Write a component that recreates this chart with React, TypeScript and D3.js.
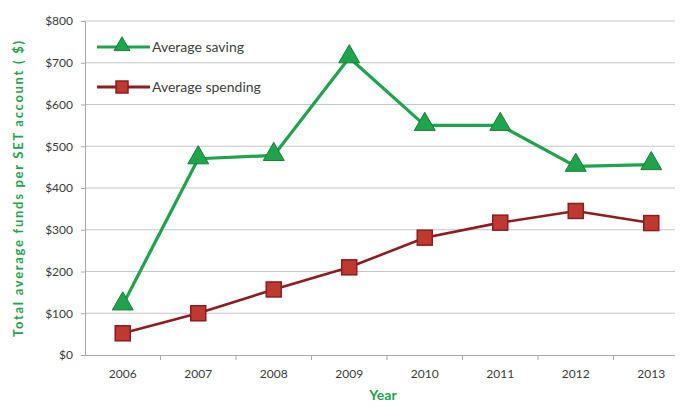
import React, { useEffect, useRef } from 'react';
import * as d3 from 'd3';

const years = ['2006', '2007', '2008', '2009', '2010', '2011', '2012', '2013'];
const saving = [120, 470, 478, 712, 550, 550, 452, 456];
const spending = [52, 100, 157, 210, 281, 317, 345, 316];
const yTicks = [0, 100, 200, 300, 400, 500, 600, 700, 800];

const GREEN = '#1ea44b';
const GREEN_DARK = '#14803a';
const RED = '#8e1d1f';
const RED_FILL = '#c0392f';
const FONT = 'Lato, "Open Sans", sans-serif';

export default function App() {
  const svgRef = useRef<SVGSVGElement | null>(null);

  useEffect(() => {
    const width = 683;
    const height = 410;
    const margin = { top: 21, right: -6, bottom: 55, left: 85 };

    const svg = d3.select(svgRef.current)
      .attr('width', width)
      .attr('height', height)
      .style('background', '#fff');

    svg.selectAll('*').remove();

    const x = d3.scaleBand()
      .domain(years)
      .range([margin.left, width - margin.right]);

    const y = d3.scaleLinear()
      .domain([0, 800])
      .range([height - margin.bottom, margin.top]);

    const cx = (i: number) => x(years[i])! + x.bandwidth() / 2;

    // gridlines
    svg.append('g')
      .selectAll('line')
      .data(yTicks.filter(t => t > 0))
      .join('line')
      .attr('x1', margin.left)
      .attr('x2', width)
      .attr('y1', d => y(d))
      .attr('y2', d => y(d))
      .attr('stroke', '#c6c6c6')
      .attr('stroke-width', 1.2);

    // y axis
    const yAxis = d3.axisLeft(y)
      .tickValues(yTicks)
      .tickSize(4)
      .tickPadding(8)
      .tickFormat(d => `$${d}`);

    const gy = svg.append('g')
      .attr('transform', `translate(${margin.left},0)`)
      .call(yAxis);
    gy.select('.domain').attr('stroke', '#a8a8a8');
    gy.selectAll('.tick line').attr('stroke', '#a8a8a8');
    gy.selectAll('text')
      .style('font-family', FONT)
      .style('font-size', '12px')
      .attr('fill', '#3a3a3a');

    // x axis
    const xAxis = d3.axisBottom(x).tickSize(0).tickPadding(14);
    const gx = svg.append('g')
      .attr('transform', `translate(0,${height - margin.bottom})`)
      .call(xAxis);
    gx.select('.domain').attr('stroke', '#a8a8a8');
    gx.selectAll('text')
      .style('font-family', FONT)
      .style('font-size', '12px')
      .attr('fill', '#3a3a3a');
    gx.selectAll('.sep')
      .data(years.slice(1))
      .join('line')
      .attr('class', 'sep')
      .attr('x1', d => x(d)!)
      .attr('x2', d => x(d)!)
      .attr('y1', 0)
      .attr('y2', 5)
      .attr('stroke', '#a8a8a8');

    const line = d3.line<number>()
      .x((_, i) => cx(i))
      .y(d => y(d));

    // saving
    svg.append('path')
      .datum(saving)
      .attr('d', line)
      .attr('fill', 'none')
      .attr('stroke', GREEN)
      .attr('stroke-width', 3.2)
      .attr('stroke-linejoin', 'round');

    const tri = d3.symbol().type(d3.symbolTriangle).size(190);
    svg.append('g')
      .selectAll('path')
      .data(saving)
      .join('path')
      .attr('d', tri)
      .attr('transform', (d, i) => `translate(${cx(i)},${y(d) - 1})`)
      .attr('fill', GREEN)
      .attr('stroke', GREEN_DARK)
      .attr('stroke-width', 1);

    // spending
    svg.append('path')
      .datum(spending)
      .attr('d', line)
      .attr('fill', 'none')
      .attr('stroke', RED)
      .attr('stroke-width', 2.6);

    svg.append('g')
      .selectAll('rect')
      .data(spending)
      .join('rect')
      .attr('x', (_, i) => cx(i) - 7.5)
      .attr('y', d => y(d) - 7.5)
      .attr('width', 15)
      .attr('height', 15)
      .attr('fill', RED_FILL)
      .attr('stroke', RED)
      .attr('stroke-width', 1.5);

    // legend
    const legend = svg.append('g');
    const items = [
      { label: 'Average saving', color: GREEN, ly: 47 },
      { label: 'Average spending', color: RED, ly: 87 },
    ];
    items.forEach((it, k) => {
      legend.append('line')
        .attr('x1', 97).attr('x2', 150)
        .attr('y1', it.ly).attr('y2', it.ly)
        .attr('stroke', it.color)
        .attr('stroke-width', 3);
      if (k === 0) {
        legend.append('path')
          .attr('d', d3.symbol().type(d3.symbolTriangle).size(110)())
          .attr('transform', `translate(122,${it.ly - 1})`)
          .attr('fill', GREEN)
          .attr('stroke', GREEN_DARK);
      } else {
        legend.append('rect')
          .attr('x', 116).attr('y', it.ly - 6)
          .attr('width', 12).attr('height', 12)
          .attr('fill', RED_FILL)
          .attr('stroke', RED)
          .attr('stroke-width', 1.5);
      }
      legend.append('text')
        .attr('x', 152)
        .attr('y', it.ly)
        .attr('dy', '0.35em')
        .style('font-family', FONT)
        .style('font-size', '14px')
        .attr('fill', '#404040')
        .text(it.label);
    });

    // axis titles
    svg.append('text')
      .attr('transform', `translate(18,${(margin.top + height - margin.bottom) / 2 + 1}) rotate(-90)`)
      .attr('text-anchor', 'middle')
      .attr('dy', '0.35em')
      .attr('textLength', 296)
      .attr('lengthAdjust', 'spacing')
      .style('font-family', FONT)
      .style('font-size', '13px')
      .style('font-weight', 'bold')
      .attr('fill', GREEN)
      .text('Total average funds per SET account ( $)');

    svg.append('text')
      .attr('x', 383)
      .attr('y', 400)
      .attr('text-anchor', 'middle')
      .style('font-family', FONT)
      .style('font-size', '14px')
      .style('font-weight', 'bold')
      .attr('fill', GREEN)
      .text('Year');
  }, []);

  return (
    <div style={{ margin: -8 }}>
      <svg ref={svgRef} style={{ display: 'block' }}></svg>
    </div>
  );
}
